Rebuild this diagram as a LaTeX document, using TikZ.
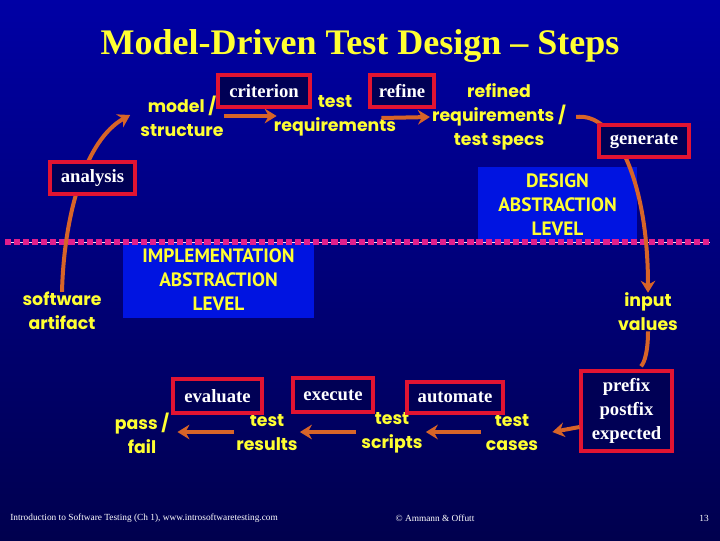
\documentclass[tikz,border=0pt]{standalone}
\usepackage{fontspec}
\setmainfont{Liberation Serif}
\newfontfamily\comicf{Poppins}
\newfontfamily\levelf{PT Sans}
\usetikzlibrary{arrows.meta,calc}
\definecolor{bgtop}{RGB}{0,0,165}
\definecolor{bgbot}{RGB}{0,0,78}
\definecolor{yel}{RGB}{255,255,50}
\definecolor{arrc}{RGB}{215,100,40}
\definecolor{boxred}{RGB}{225,20,50}
\definecolor{boxfill}{RGB}{0,0,85}
\definecolor{lvlblue}{RGB}{0,20,225}
\definecolor{dashmag}{RGB}{225,30,140}
\tikzset{
  ytext/.style={text=yel, font=\comicf\bfseries\fontsize{13}{18}\selectfont, align=center, inner sep=0pt},
  lbox/.style={draw=boxred, line width=2.3pt, fill=boxfill, text=white, font=\bfseries\fontsize{14}{18}\selectfont, inner sep=0pt, align=center},
  lvl/.style={fill=lvlblue, text=yel, font=\levelf\bfseries\fontsize{14.5}{18}\selectfont, align=center, inner sep=0pt},
  arr/.style={draw=arrc, line width=3pt, -{Stealth[length=9pt,width=11pt,inset=3pt]}},
  arrl/.style={draw=arrc, line width=3pt},
  foot/.style={text=white, font=\fontsize{7}{8}\selectfont, inner sep=0pt}
}
\begin{document}
\begin{tikzpicture}[x=0.75pt,y=-0.75pt]
\shade[top color=bgtop,bottom color=bgbot] (0,0) rectangle (720,540);
\useasboundingbox (0,0) rectangle (720,540);

% title
\node[text=yel, font=\bfseries\fontsize{27}{30}\selectfont, inner sep=0pt] (title) at (360,46) {Model-Driven Test Design -- Steps};

% abstraction level boxes
\node[lvl, minimum width=119.25pt, minimum height=56.25pt] (design) at (557.5,204.5) {DESIGN\\ABSTRACTION\\LEVEL};
\node[lvl, minimum width=143.25pt, minimum height=57pt] (impl) at (218.5,280) {IMPLEMENTATION\\ABSTRACTION\\LEVEL};

% level separator
\coordinate (sepL) at (5,242);
\coordinate (sepR) at (710,242);
\draw[white!85!magenta, line width=0.6pt] (sepL) -- (sepR);
\draw[dashmag, line width=3.8pt, dash pattern=on 4.6pt off 2.2pt] (sepL) -- (sepR);

% yellow artefact texts
\node[ytext] (ms) at (182,116) {model /\\structure};
\node[ytext] (tr) at (335,116) {test\\requirements};
\node[ytext] (rr) at (499,117) {refined\\requirements /\\test specs};
\node[ytext] (iv) at (648,312) {input\\values};
\node[ytext] (tc) at (512,433) {test\\cases};
\node[ytext] (ts) at (392,433) {test\\scripts};
\node[ytext] (tres) at (267,433) {test\\results};
\node[ytext] (pf) at (142,433) {pass /\\fail};
\node[ytext] (sa) at (62,311) {software\\artifact};

% curved connectors
\draw[arr] (sa.north) .. controls (64,215) and (85,140) .. ($(ms.west)+(-10,-1)$);
\draw[arr] ($(rr.east)+(10,0)$) .. controls (615,112) and (648,180) .. (iv.north);
\draw[arrl] (iv.south) .. controls (648,350) and (645,362) .. ($(iv.south)+(-7,35)$);

% straight connectors
\draw[arr] (ms.east) -- ($(tr.west)+(3,0)$);
\draw[arr] ($(tr.east)+(-15,2)$) -- ($(rr.west)+(-2,0)$);
\draw[arr] ($(tc.west)+(-5,-1)$) -- ($(ts.east)+(3,-1)$);
\draw[arr] ($(ts.west)+(-5,-1)$) -- ($(tres.east)+(2,-1)$);
\draw[arr] ($(tres.west)+(-2,-1)$) -- ($(pf.east)+(8,-1)$);

% activity boxes
\node[lbox, minimum width=69pt, minimum height=24pt] (crit) at (264,91) {criterion};
\node[lbox, minimum width=48pt, minimum height=24pt] (refine) at (402,91) {refine};
\node[lbox, minimum width=67.5pt, minimum height=24pt] (gen) at (644,141) {generate};
\node[lbox, minimum width=63.75pt, minimum height=24pt] (anal) at (92.5,178) {analysis};
\node[lbox, minimum width=68.25pt, minimum height=60pt] (pre) at (626.5,411) {prefix\\postfix\\expected};
\node[lbox, minimum width=72pt, minimum height=23.25pt] (auto) at (455,397.5) {automate};
\node[lbox, minimum width=60pt, minimum height=25.5pt] (exec) at (333,395) {execute};
\node[lbox, minimum width=66.75pt, minimum height=25.5pt] (eval) at (217.5,396) {evaluate};

\draw[arr] ($(pre.west)+(0,16)$) -- ($(tc.east)+(14,-1)$);

% footer
\node[foot, anchor=west] (f1) at (10,518) {Introduction to Software Testing (Ch 1), www.introsoftwaretesting.com};
\node[foot] (f2) at (435,518) {\textcopyright{} Ammann \& Offutt};
\node[foot] (f3) at (704,518) {13};
\end{tikzpicture}
\end{document}
